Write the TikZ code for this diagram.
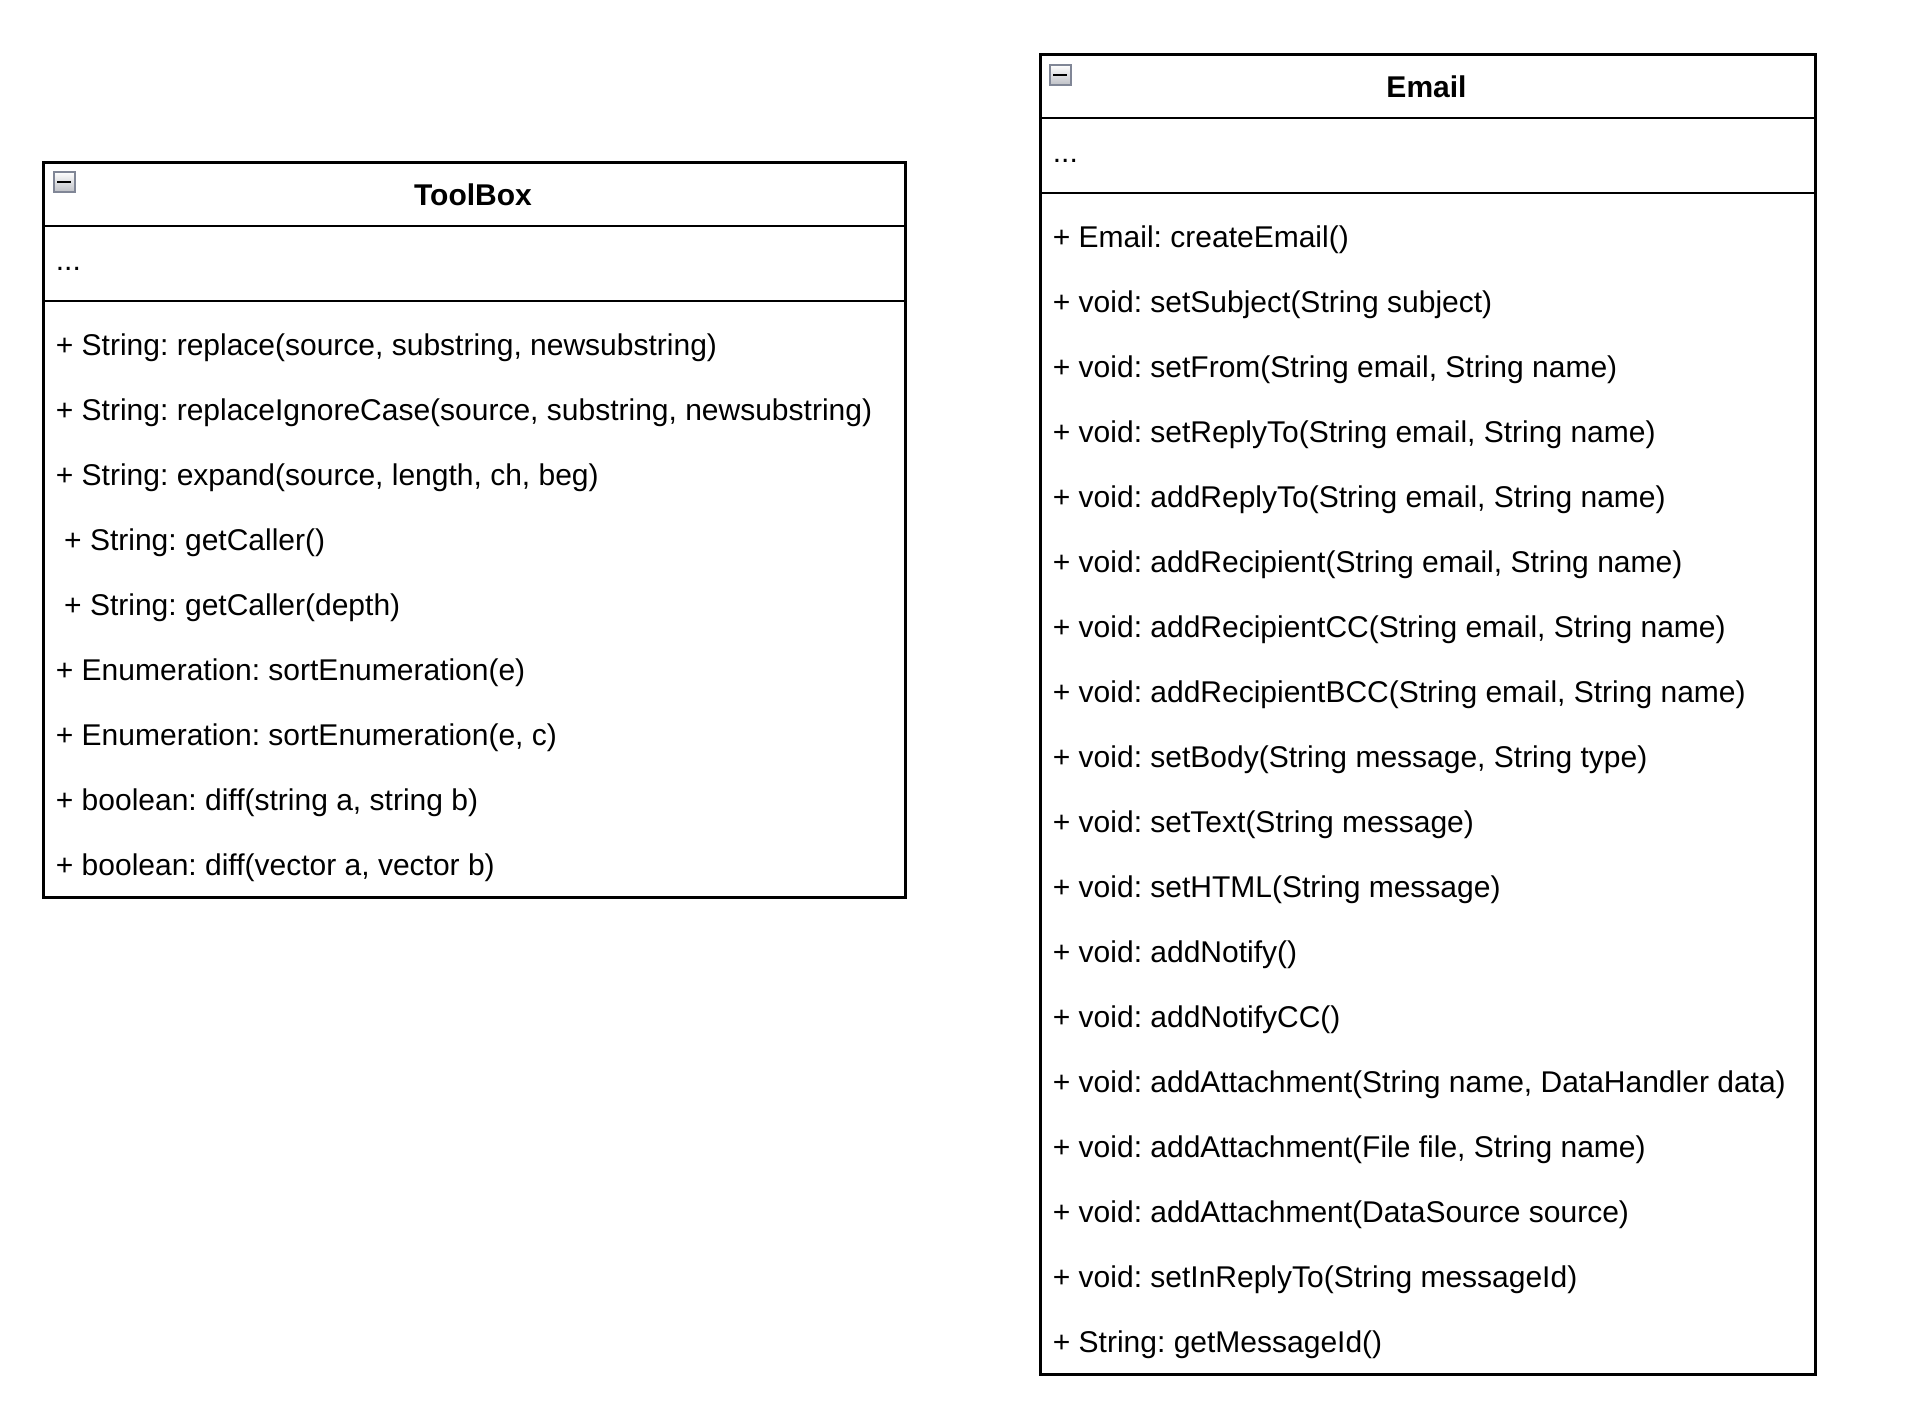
\documentclass[tikz,border=0pt]{standalone}
\usepackage{fontspec}
\setmainfont{Liberation Sans}
\frenchspacing
\begin{document}
\frenchspacing
\begin{tikzpicture}[x=0.5pt,y=-0.5pt,
  classbox/.style={draw=black, line width=1.4pt, fill=white, rectangle, anchor=north west, inner sep=0pt},
  member/.style={anchor=west, inner sep=0pt, yshift=-3.6pt, text height=0.74em, text depth=0.26em, font=\fontsize{15pt}{18pt}\selectfont\frenchspacing},
  title/.style={anchor=center, inner sep=0pt, yshift=-3.4pt, text height=0.74em, text depth=0.26em, font=\fontsize{15pt}{18pt}\selectfont\bfseries},
  divider/.style={draw=black, line width=1.4pt},
  iconbox/.style={draw={rgb,255:red,128;green,134;blue,150}, line width=0.9pt, top color=white, bottom color={rgb,255:red,190;green,192;blue,198}},
  iconbar/.style={draw=black, line width=1.2pt}
]
\useasboundingbox (0,0) rectangle (1908,1422);

% ---------------- ToolBox ----------------
\node[classbox, minimum width=862*0.5pt, minimum height=735*0.5pt] (tb) at (42,161) {};
\coordinate (tbh1) at (42,226); \coordinate (tbh2) at (904,226);
\coordinate (tbd1) at (42,301); \coordinate (tbd2) at (904,301);
\draw[divider] (tbh1) -- (tbh2);
\draw[divider] (tbd1) -- (tbd2);
\node[title] (tbtitle) at (473,193.5) {ToolBox};
\node[iconbox, rectangle, minimum width=10.5pt, minimum height=10pt, inner sep=0pt, anchor=north west] (tbicon) at (53,171) {};
\draw[iconbar] ([xshift=2.2pt]tbicon.west) -- ([xshift=-2.2pt]tbicon.east);
\node[member] (tbattr) at (55.5,258.5) {...};
\node[member] (tbm0) at (55.5,343.5) {+ String: replace(source, substring, newsubstring)};
\node[member] (tbm1) at (55.5,408.5) {+ String: replaceIgnoreCase(source, substring, newsubstring)};
\node[member] (tbm2) at (55.5,473.5) {+ String: expand(source, length, ch, beg)};
\node[member] (tbm3) at (55.5,538.5) {\ + String: getCaller()};
\node[member] (tbm4) at (55.5,603.5) {\ + String: getCaller(depth)};
\node[member] (tbm5) at (55.5,668.5) {+ Enumeration: sortEnumeration(e)};
\node[member] (tbm6) at (55.5,733.5) {+ Enumeration: sortEnumeration(e, c)};
\node[member] (tbm7) at (55.5,798.5) {+ boolean: diff(string a, string b)};
\node[member] (tbm8) at (55.5,863.5) {+ boolean: diff(vector a, vector b)};

% ---------------- Email ----------------
\node[classbox, minimum width=775*0.5pt, minimum height=1320*0.5pt] (em) at (1039,53) {};
\coordinate (emh1) at (1039,118); \coordinate (emh2) at (1814,118);
\coordinate (emd1) at (1039,193); \coordinate (emd2) at (1814,193);
\draw[divider] (emh1) -- (emh2);
\draw[divider] (emd1) -- (emd2);
\node[title] (emtitle) at (1426.5,85.5) {Email};
\node[iconbox, rectangle, minimum width=10.5pt, minimum height=10pt, inner sep=0pt, anchor=north west] (emicon) at (1049,64) {};
\draw[iconbar] ([xshift=2.2pt]emicon.west) -- ([xshift=-2.2pt]emicon.east);
\node[member] (emattr) at (1052.5,150.5) {...};
\node[member] (emm0) at (1052.5,235.5) {+ Email: createEmail()};
\node[member] (emm1) at (1052.5,300.5) {+ void: setSubject(String subject)};
\node[member] (emm2) at (1052.5,365.5) {+ void: setFrom(String email, String name)};
\node[member] (emm3) at (1052.5,430.5) {+ void: setReplyTo(String email, String name)};
\node[member] (emm4) at (1052.5,495.5) {+ void: addReplyTo(String email, String name)};
\node[member] (emm5) at (1052.5,560.5) {+ void: addRecipient(String email, String name)};
\node[member] (emm6) at (1052.5,625.5) {+ void: addRecipientCC(String email, String name)};
\node[member] (emm7) at (1052.5,690.5) {+ void: addRecipientBCC(String email, String name)};
\node[member] (emm8) at (1052.5,755.5) {+ void: setBody(String message, String type)};
\node[member] (emm9) at (1052.5,820.5) {+ void: setText(String message)};
\node[member] (emm10) at (1052.5,885.5) {+ void: setHTML(String message)};
\node[member] (emm11) at (1052.5,950.5) {+ void: addNotify()};
\node[member] (emm12) at (1052.5,1015.5) {+ void: addNotifyCC()};
\node[member] (emm13) at (1052.5,1080.5) {+ void: addAttachment(String name, DataHandler data)};
\node[member] (emm14) at (1052.5,1145.5) {+ void: addAttachment(File file, String name)};
\node[member] (emm15) at (1052.5,1210.5) {+ void: addAttachment(DataSource source)};
\node[member] (emm16) at (1052.5,1275.5) {+ void: setInReplyTo(String messageId)};
\node[member] (emm17) at (1052.5,1340.5) {+ String: getMessageId()};
\end{tikzpicture}
\end{document}
